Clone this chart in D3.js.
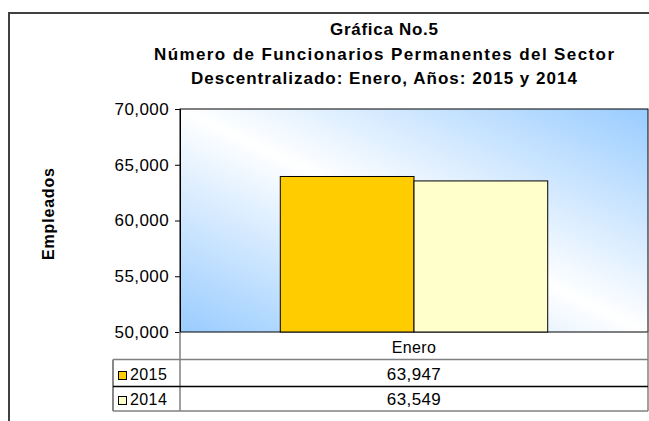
<!DOCTYPE html>
<html>
<head>
<meta charset="utf-8">
<script src="https://cdn.jsdelivr.net/npm/d3@7"></script>
<style>
  body { margin: 0; background: #fff; }
  svg { display: block; font-family: "Liberation Sans", Arial, sans-serif; }
</style>
</head>
<body>
<svg id="chart"></svg>
<script>
// data
const categories = ["Enero"];
const years = ["2015", "2014"];
const values2015 = [63947];
const values2014 = [63549];
const yTicks = [50000, 55000, 60000, 65000, 70000];
const titleLines = [
  "Gráfica No.5",
  "Número de Funcionarios Permanentes del Sector",
  "Descentralizado: Enero, Años: 2015 y 2014",
];

const colors = d3.scaleOrdinal().domain(years).range(["#FFCC00", "#FFFFCC"]);

const width = 649;
const height = 421;
const svg = d3.select("#chart").attr("width", width).attr("height", height);

// outer frame (right and bottom edges are cut off in the original)
svg
  .append("rect")
  .attr("x", 9)
  .attr("y", 13)
  .attr("width", 700)
  .attr("height", 500)
  .attr("fill", "#fff")
  .attr("stroke", "#404040")
  .attr("stroke-width", 2);

// title
const titleW = [108, 460, 386];
svg
  .selectAll(".title")
  .data(titleLines)
  .enter()
  .append("text")
  .attr("class", "title")
  .attr("x", 384)
  .attr("y", (d, i) => 35 + i * 24.5)
  .attr("text-anchor", "middle")
  .attr("textLength", (d, i) => titleW[i])
  .attr("lengthAdjust", "spacing")
  .style("font-size", "17px")
  .style("font-weight", "bold")
  .text((d) => d);

const plot = { left: 180, right: 648, top: 109, bottom: 332 };

// gradient for the plot area
const defs = svg.append("defs");
const grad = defs
  .append("linearGradient")
  .attr("id", "bg")
  .attr("x1", 0)
  .attr("y1", 1)
  .attr("x2", 1)
  .attr("y2", 0);
grad.append("stop").attr("offset", 0).attr("stop-color", "#99CCFF");
grad.append("stop").attr("offset", 0.5).attr("stop-color", "#FFFFFF");
grad.append("stop").attr("offset", 1).attr("stop-color", "#99CCFF");

svg
  .append("rect")
  .attr("x", plot.left)
  .attr("y", plot.top)
  .attr("width", plot.right - plot.left)
  .attr("height", plot.bottom - plot.top)
  .attr("fill", "url(#bg)")
  .attr("stroke", "#000")
  .attr("stroke-width", 1);

const y = d3.scaleLinear().domain([50000, 70000]).range([plot.bottom, plot.top]);

const gapWidth = 1.5;
const pi = gapWidth / (years.length + gapWidth);
const x0 = d3
  .scaleBand()
  .domain(categories)
  .range([plot.left, plot.right])
  .paddingInner(pi)
  .paddingOuter(pi / 2);
const x1 = d3.scaleBand().domain(years).range([0, x0.bandwidth()]);

const series = [
  { year: "2015", values: values2015 },
  { year: "2014", values: values2014 },
];

const bars = [];
series.forEach((s) =>
  s.values.forEach((v, i) => bars.push({ year: s.year, cat: categories[i], value: v }))
);

svg
  .selectAll(".bar")
  .data(bars)
  .enter()
  .append("rect")
  .attr("class", "bar")
  .attr("x", (d) => x0(d.cat) + x1(d.year))
  .attr("y", (d) => y(d.value))
  .attr("width", x1.bandwidth())
  .attr("height", (d) => y(50000) - y(d.value))
  .attr("fill", (d) => colors(d.year))
  .attr("stroke", "#000")
  .attr("stroke-width", 1);

// y axis
const yAxis = svg
  .append("g")
  .attr("transform", `translate(${plot.left},0)`)
  .call(d3.axisLeft(y).tickValues(yTicks).tickFormat(d3.format(",")).tickSize(5).tickPadding(6));
yAxis.select(".domain").attr("stroke", "#000");
yAxis.selectAll(".tick line").attr("stroke", "#000");
yAxis
  .selectAll(".tick text")
  .style("font-size", "17px")
  .style("letter-spacing", "0.4px")
  .attr("fill", "#000");

svg
  .append("text")
  .attr("transform", "translate(54,214) rotate(-90)")
  .attr("text-anchor", "middle")
  .attr("textLength", 92)
  .attr("lengthAdjust", "spacing")
  .style("font-size", "16px")
  .style("font-weight", "bold")
  .text("Empleados");

// data table
const rows = { head: 359.5, r1: 386.5, bottom: 411 };
const legLeft = 113;
const table = svg.append("g");
const lines = [
  [plot.left, plot.bottom, plot.left, rows.bottom, "#808080"],
  [plot.right, plot.bottom, plot.right, rows.bottom, "#808080"],
  [legLeft, rows.head, legLeft, rows.bottom, "#606060"],
  [legLeft, rows.head, plot.right, rows.head, "#808080"],
  [legLeft, rows.r1, plot.right, rows.r1, "#000"],
  [legLeft, rows.bottom, plot.right, rows.bottom, "#808080"],
];
table
  .selectAll("line")
  .data(lines)
  .enter()
  .append("line")
  .attr("x1", (d) => d[0])
  .attr("y1", (d) => d[1])
  .attr("x2", (d) => d[2])
  .attr("y2", (d) => d[3])
  .attr("stroke", (d) => d[4])
  .attr("stroke-width", 1.5);

table
  .selectAll(".cat")
  .data(categories)
  .enter()
  .append("text")
  .attr("x", (d) => x0(d) + x0.bandwidth() / 2)
  .attr("y", 353)
  .attr("text-anchor", "middle")
  .style("font-size", "16px")
  .style("letter-spacing", "0.4px")
  .text((d) => d);

const fmt = d3.format(",");
const rowY = [380, 405];
series.forEach((s, i) => {
  table
    .append("rect")
    .attr("x", 118.5)
    .attr("y", rowY[i] - 8.5)
    .attr("width", 8)
    .attr("height", 8)
    .attr("fill", colors(s.year))
    .attr("stroke", "#000")
    .attr("stroke-width", 1);
  table
    .append("text")
    .attr("x", 130)
    .attr("y", rowY[i])
    .style("font-size", "16px")
    .style("letter-spacing", "0.4px")
    .text(s.year);
  table
    .selectAll(null)
    .data(s.values)
    .enter()
    .append("text")
    .attr("x", (d, j) => x0(categories[j]) + x0.bandwidth() / 2)
    .attr("y", rowY[i])
    .attr("text-anchor", "middle")
    .style("font-size", "17px")
    .style("letter-spacing", "0.4px")
    .text((d) => fmt(d));
});
</script>
</body>
</html>
